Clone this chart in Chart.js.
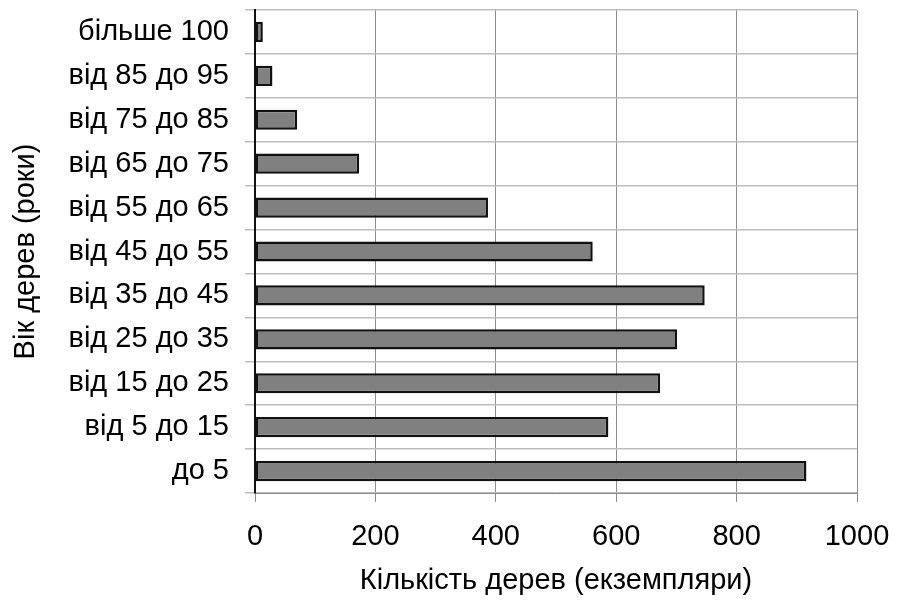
<!DOCTYPE html>
<html>
<head>
<meta charset="utf-8">
<script src="https://cdn.jsdelivr.net/npm/chart.js@4/dist/chart.umd.min.js"></script>
<style>
  html, body { margin: 0; padding: 0; background: #ffffff; }
  #wrap { width: 901px; height: 603px; position: relative; }
</style>
</head>
<body>
<div id="wrap"><canvas id="c" width="901" height="603"></canvas></div>
<script>
const categories = ['більше 100', 'від 85 до 95', 'від 75 до 85', 'від 65 до 75', 'від 55 до 65',
  'від 45 до 55', 'від 35 до 45', 'від 25 до 35', 'від 15 до 25', 'від 5 до 15', 'до 5'];
const treeCounts = [13, 29, 70, 173, 387, 561, 747, 701, 673, 587, 916];
const xTickValues = [0, 200, 400, 600, 800, 1000];
const xTitle = 'Кількість дерев (екземпляри)';
const yTitle = 'Вік дерев (роки)';

const FONT = "'Liberation Sans', Arial, sans-serif";

new Chart(document.getElementById('c'), {
  type: 'bar',
  data: {
    labels: categories,
    datasets: [{
      data: treeCounts,
      backgroundColor: '#808080',
      borderColor: '#111111',
      borderWidth: 2.5,
      borderSkipped: false,
      barPercentage: 0.46,
      categoryPercentage: 1.0
    }]
  },
  options: {
    indexAxis: 'y',
    responsive: false,
    animation: false,
    devicePixelRatio: 1,
    layout: { padding: { top: 10, right: 44, left: 0, bottom: 0 } },
    plugins: { legend: { display: false }, tooltip: { enabled: false } },
    scales: {
      x: {
        min: 0, max: 1000,
        afterBuildTicks: (s) => { s.ticks = xTickValues.map(v => ({ value: v })); },
        afterFit: (s) => { s.height = 110; s.paddingLeft = 0; s.paddingRight = 0; },
        grid: { color: '#8c8c8c', lineWidth: 1, tickLength: 9, drawTicks: true },
        border: { display: true, color: '#8c8c8c', width: 1 },
        ticks: { color: '#000', font: { family: FONT, size: 29 }, padding: 18, maxRotation: 0,
                 callback: (v) => String(v) },
        title: { display: true, text: xTitle, color: '#000', font: { family: FONT, size: 29 }, padding: { top: 0, bottom: 5 } }
      },
      y: {
        afterFit: (s) => { s.width = 255; s.paddingTop = 0; s.paddingBottom = 0; },
        grid: { color: '#bdbdbd', lineWidth: 1.5, tickLength: 10, offset: true },
        border: { display: true, color: '#111', width: 2 },
        ticks: { color: '#000', font: { family: FONT, size: 29 }, padding: 16 },
        title: { display: true, text: yTitle, color: '#000', font: { family: FONT, size: 29 }, padding: { top: 9, bottom: 0 } }
      }
    }
  }
});
</script>
</body>
</html>
